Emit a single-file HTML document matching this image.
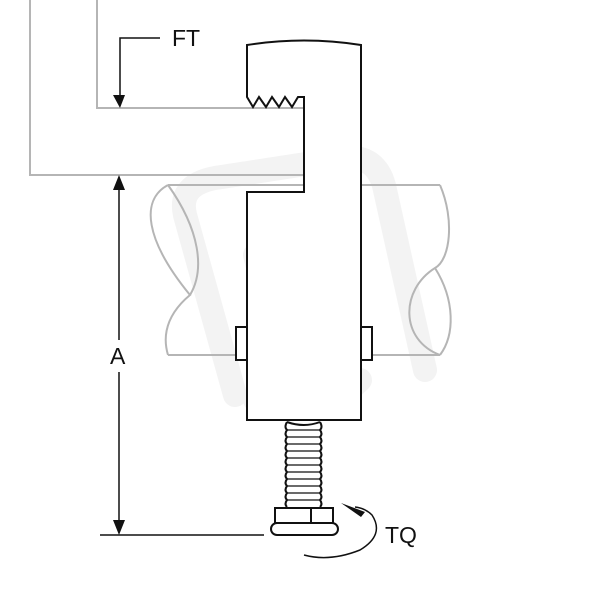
<!DOCTYPE html>
<html><head><style>body{margin:0;background:#fff}svg{display:block}</style></head><body>
<svg width="600" height="600" viewBox="0 0 600 600" xmlns="http://www.w3.org/2000/svg">
<g fill="none" stroke="#f3f3f3" stroke-width="24" stroke-linecap="round" stroke-linejoin="round">
<path d="M235 395 L185 215 Q178 185 215 178 L345 158 Q378 155 385 190 L425 370"/>
<path d="M255 255 L265 295 M310 230 L320 270"/>
<path d="M255 400 Q315 425 360 380"/>
</g>
<g fill="none" stroke="#b5b5b5" stroke-width="2">
<path d="M30 0 V175 H304"/>
<path d="M97 0 V108 H304"/>
<path d="M168 185 H440"/>
<path d="M168 355 H440"/>
<path d="M168 185 C140 200 145 240 190 295 C160 320 165 345 168 355"/>
<path d="M168 185 C200 230 205 270 190 295"/>
<path d="M440 185 C455 220 450 260 435 268 C400 290 400 340 440 355"/>
<path d="M435 268 C455 300 455 335 440 355"/>
</g>
<g fill="#fff" stroke="#111" stroke-width="2">
<rect x="236" y="327" width="11" height="33"/>
<rect x="361" y="327" width="11" height="33"/>
<path d="M247 420 V192 H304 V97 L298 97 L292 107 L285 97 L279 107 L272 97 L266 107 L259 97 L253 107 L247 97 V45 Q304 36 361 45 V420 Z"/>
</g>
<g stroke="#111" stroke-width="2" fill="#fff">
<path d="M287 422 Q304 428 320 422"/>
<path d="M287 422 Q284 427 287 430 Q284 434 287 437 Q284 441 287 444 Q284 448 287 451 Q284 455 287 458 Q284 462 287 465 Q284 469 287 472 Q284 476 287 479 Q284 483 287 486 Q284 490 287 493 Q284 497 287 500 Q284 504 287 507"/>
<path d="M320 422 Q323 427 320 430 Q323 434 320 437 Q323 441 320 444 Q323 448 320 451 Q323 455 320 458 Q323 462 320 465 Q323 469 320 472 Q323 476 320 479 Q323 483 320 486 Q323 490 320 493 Q323 497 320 500 Q323 504 320 507"/>
<path d="M287 430 H320 M287 437 H320 M287 444 H320 M287 451 H320 M287 458 H320 M287 465 H320 M287 472 H320 M287 479 H320 M287 486 H320 M287 493 H320 M287 500 H320" stroke-width="1.3"/>
<rect x="275" y="508" width="58" height="15"/>
<path d="M311 508 V523"/>
<rect x="271" y="523" width="67" height="12" rx="6"/>
</g>
<g stroke="#111" stroke-width="1.5" fill="none">
<path d="M100 535 H264"/>
<path d="M119 190 V340 M119 372 V520"/>
<path d="M160 38 H120 V95"/>
<path d="M304 555 Q330 562 360 550 Q385 535 372 515 Q365 508 355 507"/>
</g>
<g fill="#111">
<path d="M113 95 H125 L120 108 Z"/>
<path d="M113 190 H125 L119 175 Z"/>
<path d="M113 520 H125 L119 535 Z"/>
<path d="M341 503 L365 512 L361 517 Z"/>
</g>
<g font-family="Liberation Sans, sans-serif" font-size="23" fill="#111">
<text x="172" y="46">FT</text>
<text x="110" y="364">A</text>
<text x="385" y="543">TQ</text>
</g>
</svg>
</body></html>
